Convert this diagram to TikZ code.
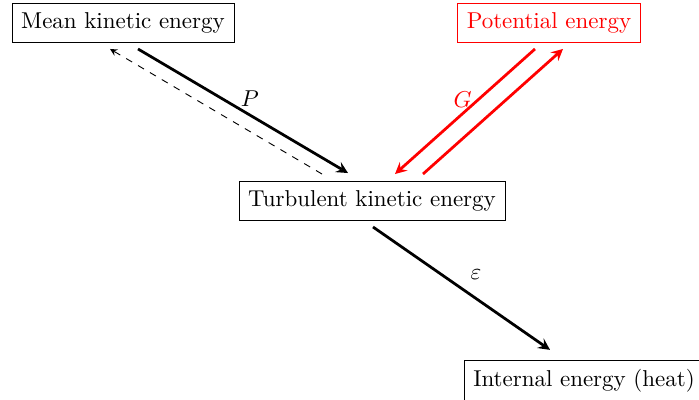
\documentclass[tikz,border=0pt]{standalone}
\usetikzlibrary{calc}
\tikzset{
  energy/.style={draw,rectangle,inner sep=4pt},
  flow/.style={->,>=stealth,very thick},
}
\begin{document}
\begin{tikzpicture}[x=0.0153cm,y=-0.0153cm]
  \useasboundingbox (0,0) rectangle (699,400);
  \node[energy] (mean) at (123,23) {Mean kinetic energy};
  \node[energy,red] (pot) at (549,23) {Potential energy};
  \node[energy] (tke) at (372,201) {Turbulent kinetic energy};
  \node[energy] (heat) at (584,381) {Internal energy (heat)};
  % production
  \draw[flow] ($(mean.south)+(15,6)$) -- ($(tke.north)+(-24,-8)$)
    node[midway,above=-2pt,xshift=3pt] {$P$};
  \draw[->,>=stealth,dashed] ($(tke.north)+(-50,-7)$) -- ($(mean.south)+(-13,6)$);
  % buoyancy
  \draw[flow,red] ($(pot.south)+(-14,6)$) -- ($(tke.north)+(23,-7)$)
    node[midway,above=-2pt,xshift=-1pt] {$G$};
  \draw[flow,red] ($(tke.north)+(51,-7)$) -- ($(pot.south)+(14,6)$);
  % dissipation
  \draw[flow] ($(tke.south)+(1,6)$) -- ($(heat.north)+(-34,-10)$)
    node[midway,above right] {$\varepsilon$};
\end{tikzpicture}
\end{document}
